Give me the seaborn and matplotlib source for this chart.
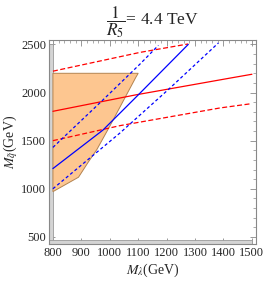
import numpy as np
import pandas as pd
import seaborn as sns
import matplotlib
matplotlib.use("Agg")
import matplotlib.pyplot as plt
from matplotlib.ticker import MultipleLocator

# valores (GeV)
red_solid_x = [800, 1090, 1423, 1500]
red_solid_y = [1805, 1975, 2150, 2190]
red_low_x = [800, 1036, 1388, 1500]
red_low_y = [1500, 1656, 1840, 1885]
red_top_x = [800, 1106, 1276]
red_top_y = [2222, 2417, 2505]

blue_solid_x = [800, 976, 1100, 1276]
blue_solid_y = [1210, 1610, 1975, 2500]
blue_left_x = [800, 971, 1106, 1171]
blue_left_y = [1430, 1909, 2295, 2490]
blue_right_x = [800, 1036, 1206, 1382]
blue_right_y = [1000, 1580, 2031, 2515]

region_x = [800, 890, 925, 955, 1000, 1092, 1100, 800]
region_y = [970, 1120, 1280, 1410, 1650, 2160, 2200, 2200]

xticks = [800, 900, 1000, 1100, 1200, 1300, 1400, 1500]
yticks = [500, 1000, 1500, 2000, 2500]

sns.set_theme(style="ticks")
plt.rcParams['font.family'] = ['Liberation Serif', 'DejaVu Serif']
plt.rcParams['mathtext.fontset'] = 'stix'

fig = plt.figure(figsize=(2.66, 2.81), dpi=100)
ax = fig.add_axes([0.184, 0.132, 0.778, 0.726])

# zona gris fuera del rango
ax.fill([786, 800, 800, 786], [427, 427, 2500, 2500], color="#d4d4d4",
        ec="#9a9a9a", lw=0.6, zorder=1)
ax.fill([786, 1500, 1500, 786], [427, 427, 469, 469], color="#d4d4d4",
        ec="#9a9a9a", lw=0.6, zorder=1)

# region permitida
ax.fill(region_x, region_y, color="#fdc690", ec="#b3834f", lw=0.7, zorder=2)

def line(x, y, color, ls):
    df = pd.DataFrame({"x": x, "y": y})
    sns.lineplot(data=df, x="x", y="y", ax=ax, color=color, lw=0.9,
                 linestyle=ls, sort=False, zorder=3)

line(red_solid_x, red_solid_y, "red", "-")
line(red_low_x, red_low_y, "red", (0, (4, 2)))
line(red_top_x, red_top_y, "red", (0, (4, 2)))
line(blue_solid_x, blue_solid_y, "blue", "-")
line(blue_left_x, blue_left_y, "blue", (0, (2.5, 2)))
line(blue_right_x, blue_right_y, "blue", (0, (2.5, 2)))

ax.set_xlim(786, 1514)
ax.set_ylim(427, 2547)
ax.set_xticks(xticks)
ax.set_yticks(yticks)
ax.xaxis.set_minor_locator(MultipleLocator(20))
ax.yaxis.set_minor_locator(MultipleLocator(100))
ax.tick_params(which="both", direction="in", top=True, right=True,
               color="#888888", labelsize=9, pad=2)
ax.tick_params(which="major", length=4, width=0.6)
ax.tick_params(which="minor", length=2, width=0.5)
for s in ax.spines.values():
    s.set_color("#888888")
    s.set_linewidth(0.8)

ax.set_xlabel(r"$M_{\lambda}$(GeV)", fontsize=10, labelpad=2)
ax.set_ylabel(r"$M_{\tilde{q}}$(GeV)", fontsize=10)
ax.yaxis.set_label_coords(-0.14, 0.5)
ax.set_title(r"$\dfrac{1}{R_5}$= 4.4 TeV", fontsize=12.5, pad=3)

fig.savefig("out.png", dpi=100)
